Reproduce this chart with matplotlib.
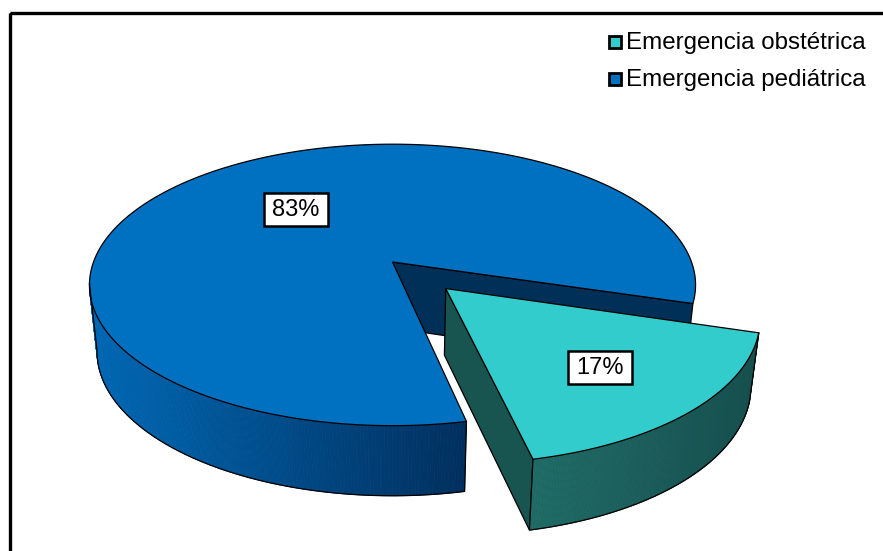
import numpy as np
import matplotlib
matplotlib.use("Agg")
import matplotlib.pyplot as plt
from matplotlib.collections import PolyCollection
from matplotlib.colors import to_rgb
from matplotlib.patches import Polygon, Rectangle

plt.rcParams['font.family'] = ['Liberation Sans', 'DejaVu Sans']

categories = ["Emergencia obstétrica", "Emergencia pediátrica"]
values = [17, 83]
pct_labels = ["17%", "83%"]

# geometry of the tilted pie, in pixels
CX, CY = 392.5, 262
A, B, K = 299, 137, 0.163
DROP, DROP_PERSP = 45, 21
SHRINK = 0.975
START = -78
EXPLODE = 0.255

TEAL = "#33CCCC"
BLUE = "#0070C0"
DARK_BLUE = "#002F57"
DARK_TEAL = "#185551"


def project(u, v, down=False):
    # plane of the pie -> screen, with perspective
    d = 1 + K * v
    x = A * u / d
    y = B * v / d
    if down:
        x = x * SHRINK
        y = y - DROP - DROP_PERSP / d
    return np.column_stack([CX + x, CY - y])


def rim(t0, t1, off=(0, 0), down=False, n=200):
    t = np.radians(np.linspace(t0, t1, n))
    return project(np.cos(t) + off[0], np.sin(t) + off[1], down)


def side(ax, t0, t1, off, c0, c1, x0, x1):
    # gradient wall, one thin quad per step
    top = rim(t0, t1, off, n=240)
    bot = rim(t0, t1, off, down=True, n=240)
    quads = [[top[i], top[i + 1], bot[i + 1], bot[i]] for i in range(len(top) - 1)]
    c0, c1 = np.array(to_rgb(c0)), np.array(to_rgb(c1))
    f = np.clip((top[:-1, 0] - x0) / (x1 - x0), 0, 1)[:, None]
    cols = c0 + (c1 - c0) * f
    ax.add_collection(PolyCollection(quads, facecolors=cols, edgecolors=cols, linewidths=0.6))
    outline = np.vstack([top[:1], bot, top[-1:]])
    ax.plot(outline[:, 0], outline[:, 1], color="black", lw=0.9)


def label(ax, x, y, w, h, txt):
    ax.add_patch(Rectangle((x, y), w, h, fc="white", ec="black", lw=1.8))
    ax.text(x + w / 2, y + h / 2 + 0.5, txt, fontsize=17, ha="center", va="center")


fig = plt.figure(figsize=(8.83, 5.51), dpi=100)
ax = fig.add_axes([0, 0, 1, 1])
ax.set_xlim(0, 883)
ax.set_ylim(551, 0)
ax.axis("off")

# chart frame, right and bottom run off the image
ax.add_patch(Rectangle((9.5, 13), 900, 600, fill=False, ec="black", lw=2.4))

sweep = [v / sum(values) * 360 for v in values]
teal_start = START
teal_end = START + sweep[0]
blue_end = teal_end + sweep[1]
mid = np.radians((teal_start + teal_end) / 2)
off = (EXPLODE * np.cos(mid), EXPLODE * np.sin(mid))

# blue slice
c = np.radians(teal_end)
face = np.vstack([project(np.array([0.0]), np.array([0.0])),
                  project(np.array([np.cos(c)]), np.array([np.sin(c)])),
                  project(np.array([np.cos(c)]), np.array([np.sin(c)]), True),
                  project(np.array([0.0]), np.array([0.0]), True)])
ax.add_patch(Polygon(face, fc=DARK_BLUE, ec="black", lw=0.9))
side(ax, 189, blue_end, (0, 0), "#0068B4", "#002F5E", 90, 465)
top = np.vstack([project(np.array([0.0]), np.array([0.0])), rim(teal_end, blue_end, n=500)])
ax.add_patch(Polygon(top, fc=BLUE, ec="black", lw=0.9))

# teal slice, pulled out
apex = project(np.array([off[0]]), np.array([off[1]]))
apex_d = project(np.array([off[0]]), np.array([off[1]]), True)
s = np.radians(teal_start)
corner = project(np.array([np.cos(s) + off[0]]), np.array([np.sin(s) + off[1]]))
corner_d = project(np.array([np.cos(s) + off[0]]), np.array([np.sin(s) + off[1]]), True)
ax.add_patch(Polygon(np.vstack([apex, corner, corner_d, apex_d]), fc=DARK_TEAL, ec="black", lw=0.9))
side(ax, teal_start, teal_end, off, "#1E6A65", "#164F4E", 533, 759)
top = np.vstack([apex, rim(teal_start, teal_end, off)])
ax.add_patch(Polygon(top, fc=TEAL, ec="black", lw=0.9))

# data labels
label(ax, 568, 350.5, 64, 33, pct_labels[0])
label(ax, 263.5, 193, 64.5, 33, pct_labels[1])

# legend
for name, col, y in zip(categories, [TEAL, BLUE], [42, 79]):
    ax.plot([614.5], [y], marker="s", ms=9, mfc=col, mec="black", mew=2)
    ax.text(626.5, y + 1, name, fontsize=17.35, ha="left", va="center")

fig.savefig("out.png", dpi=100)
